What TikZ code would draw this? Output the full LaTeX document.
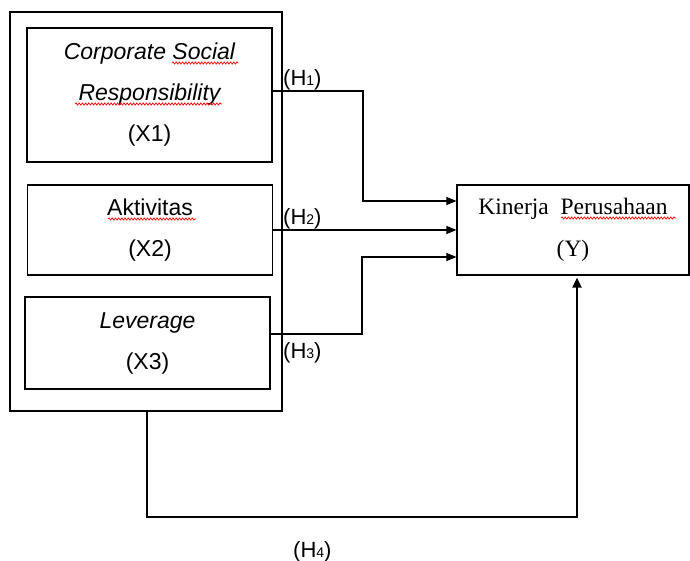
\documentclass[tikz,border=0pt]{standalone}
\usepackage{fontspec}
\setmainfont{Liberation Serif}
\newfontfamily\arialf{Liberation Sans}
\usetikzlibrary{arrows.meta,decorations.pathmorphing}
\begin{document}
\begin{tikzpicture}[x=1pt,y=-1pt,
  box/.style={draw,line width=1.2pt,rectangle,inner sep=0pt,align=center},
  sans/.style={font=\arialf\fontsize{23}{41}\selectfont},
  serif/.style={font=\fontsize{23.5}{42}\selectfont},
  conn/.style={draw,line width=1.1pt,-{Triangle[length=10pt,width=8pt]}},
  thick conn/.style={draw,line width=2pt,-{Triangle[length=10pt,width=9pt]}},
  hlabel/.style={font=\arialf\fontsize{22}{22}\selectfont,anchor=base west,inner sep=0pt},
  spell/.style={draw=red,line width=0.7pt,decorate,decoration={snake,amplitude=1.1pt,segment length=3.2pt}}]
\useasboundingbox (0,0) rectangle (690,561);
\newcommand{\hsub}[1]{{\fontsize{14}{14}\selectfont #1}}
% outer group box
\node[box,minimum width=272pt,minimum height=399pt] (outer) at (146,211.5) {};
% independent variable boxes
\node[box,sans,minimum width=245pt,minimum height=134pt] (x1) at (149.5,95)
  {\itshape Corporate Social\\\itshape Responsibility\\(X1)};
\node[box,sans,minimum width=245pt,minimum height=90pt] (x2) at (150,230)
  {Aktivitas\\(X2)};
\node[box,sans,minimum width=245pt,minimum height=92pt] (x3) at (147.5,343)
  {\itshape Leverage\\(X3)};
% dependent variable
\node[box,serif,minimum width=232pt,minimum height=90pt] (y) at (573,230)
  {Kinerja\ \ Perusahaan\\(Y)};
% connectors
\coordinate (c1) at (363,91);
\coordinate (c3) at (362,334);
\coordinate (c4a) at (147,517);
\coordinate (c4b) at (577,517);
\draw[conn] ([yshift=4pt]x1.east) -- (c1) |- ([yshift=29pt]y.west);
\draw[conn] (x2.east) -- (x2.east -| y.west);
\draw[conn] ([yshift=9pt]x3.east) -- (c3) |- ([yshift=-27pt]y.west);
\draw[thick conn] ([xshift=1pt]outer.south) -- (c4a) -- (c4b) -- ([xshift=4pt,yshift=-2pt]y.south);
% hypothesis labels
\node[hlabel] (h1) at (283,86) {(H\hsub{1})};
\node[hlabel] (h2) at (283,225) {(H\hsub{2})};
\node[hlabel] (h3) at (283,358) {(H\hsub{3})};
\node[hlabel] (h4) at (293,557) {(H\hsub{4})};
% spell-check underlines
\draw[spell] (172,63) -- (238,63);
\draw[spell] (75,104) -- (222,104);
\draw[spell] (108,219) -- (196,219);
\draw[spell] (561,218) -- (676,218);
\end{tikzpicture}
\end{document}
